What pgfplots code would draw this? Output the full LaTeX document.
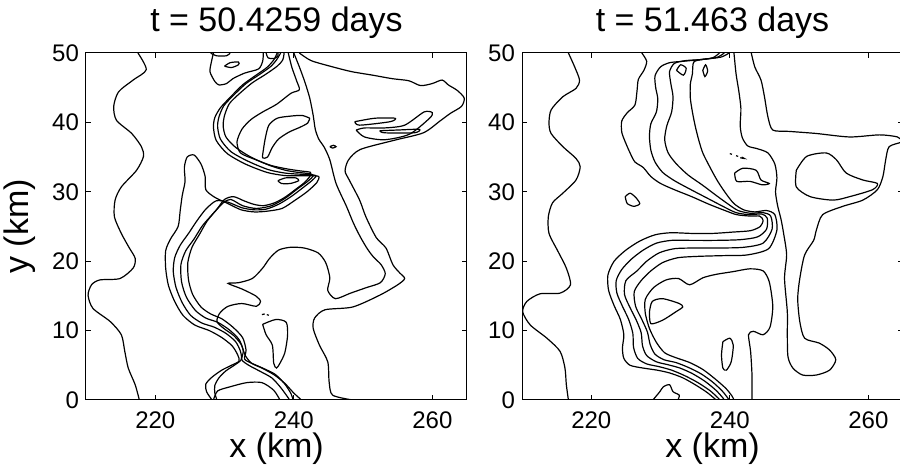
\documentclass[border=0pt]{standalone}
\usepackage{fontspec}
\setmainfont{Liberation Sans}
\usepackage{pgfplots}
\pgfplotsset{compat=1.18}
\begin{document}
\begin{tikzpicture}
\useasboundingbox (0pt,0pt) rectangle (450pt,237.5pt);
\pgfplotsset{
  panel/.style={
    scale only axis, width=190.5pt, height=173.5pt,
    xmin=210, xmax=265, ymin=0, ymax=50,
    xtick={220,240,260}, ytick={0,10,20,30,40,50},
    tick align=inside, major tick length=2.5pt,
    /pgf/number format/assume math mode=true,
    ticklabel style={font=\fontsize{12}{13}\selectfont},
    xticklabel style={anchor=base, yshift=-14.5pt},
    title style={at={(axis description cs:0.5,1.0605)}, anchor=base, yshift=-6pt, font=\fontsize{17}{19}\selectfont},
    xlabel style={at={(axis description cs:0.5,-0.1671)}, anchor=base, font=\fontsize{17}{19}\selectfont},
    ylabel style={at={(axis description cs:-0.1522,0.5)}, anchor=base, font=\fontsize{17}{19}\selectfont},
    axis line style={line width=0.5pt},
    every tick/.style={black, line width=0.5pt},
  },
  c/.style={black, line width=0.6pt, smooth, tension=0.45, mark=none},
}
% ---------------- left panel ----------------
\begin{axis}[panel, at={(43pt,37.5pt)}, anchor=south west,
  title={t = 50.4259 days}, xlabel={x (km)}, ylabel={y (km)}]
\addplot[c] coordinates {(217.5,50) (218.7,47.6) (216.8,46.1) (214.7,44.4) (214.0,42.3) (214.4,40.3) (216.6,38.4) (218.0,36.5) (218.3,35.1) (217.3,33.1) (215.1,30.7) (214.2,28.8) (214.1,26.4) (215.1,24.0) (216.2,22.0) (217.1,20.4) (216.8,19.0) (214.9,17.5) (212.0,17.3) (210.8,16.6) (210.3,15.1) (211.0,13.2) (213.5,11.3) (215.1,9.4) (215.6,7.0) (216.1,4.6) (217.1,2.2) (217.7,0)};
% outer right contour
\addplot[c] coordinates {(240.8,50) (242.5,48.9) (245.6,48.0) (248.4,47.3) (251.4,46.8) (254.2,46.3) (256.6,46.0) (258.3,45.3) (260.0,45.6) (261.4,46.1) (262.3,45.4) (263.6,44.6) (264.6,43.5) (264.2,42.3) (262.6,41.3) (261.1,40.2) (258.7,38.5) (254.4,37.4) (249.6,36.1) (247.9,34.6) (247.4,33.0) (248.0,31.7) (249.5,28.8) (250.4,26.4) (251.9,23.4) (253.3,21.9) (254.3,19.5) (255.3,18.3) (256.0,17.5) (255.0,16.6) (252.4,15.1) (248.5,13.4) (244.5,13.0) (243.0,11.8) (242.8,10.3) (243.7,7.9) (244.9,5.5) (245.1,2.6) (245.6,0.7) (248.5,0)};
% second right contour
\addplot[c] coordinates {(240.0,50) (240.8,48) (241.6,45.8) (242.3,43.5) (242.8,41) (243.1,39) (243.6,37.6) (244.4,36.4) (245.2,34.6) (246.1,31.2) (247.6,27.9) (248.6,25.5) (249.6,23.5) (250.6,21.8) (251.5,20.6) (252.6,19.5) (253.2,18.2) (252.5,16.9) (250.5,16.2) (248.2,15.4) (246.0,14.6) (244.9,15.8) (245.2,17.6) (244.6,19.8) (243.5,21.2) (241.5,21.9) (239.5,22.0) (237.8,21.6) (236.5,20.4) (235.5,19.0) (234.0,17.5) (232.0,16.9) (230.5,16.8) (232.5,16.0) (234.5,15.0) (235.2,14.2) (234.6,13.5) (232.5,13.9) (230.5,13.5) (229.3,12.5) (228.9,11.3) (229.9,10.3) (231.3,9.3) (232.4,8.0) (233.0,6.4) (233.9,5.3) (235.4,4.6) (237.2,3.6) (238.7,2.4) (240.0,1.0) (241.1,0)};
% tongue loops
\addplot[c] coordinates {(248.8,40.1) (251.7,40.6) (254.6,40.6) (253.9,40.1) (249.5,39.6) (248.8,40.1)};
\addplot[c] coordinates {(249.0,38.9) (250.2,37.9) (253.1,37.5) (256.7,38.3) (259.6,40.6) (260.0,41.4) (258.8,41.5) (256.0,39.6) (253.1,39.2) (250.2,39.2) (249.0,38.9)};
\addplot[c] coordinates {(252.4,38.8) (255.0,38.9) (258.1,39.0) (257.4,38.5) (253.1,38.5) (252.4,38.8)};
\addplot[c] coordinates {(245.2,36.5) (245.7,36.7) (246.1,36.5) (245.6,36.3) (245.2,36.5)};
% top features
\addplot[c] coordinates {(228.4,50) (228.1,48.7) (227.9,47.3) (228.6,45.9) (229.2,45.4) (230.3,45.6) (231.2,46.3) (232.9,47.1) (234.9,47.7) (235.5,48.8) (235.6,50)};
\addplot[c] coordinates {(230.0,48.1) (230.8,48.6) (232.0,48.7) (232.0,48.3) (231.0,47.9) (230.0,48.1)};
\addplot[c] coordinates {(228.0,50) (228.8,49.6) (230.3,49.6) (230.8,50)};
\addplot[c] coordinates {(236.0,50) (236.3,49.3) (237.2,49.2) (237.7,49.6) (237.7,50)};
% band line A
\addplot[c] coordinates {(237.6,50) (237.1,49) (236.1,47.9) (234.4,46.7) (232.6,45.4) (230.8,43.6) (229.4,42.1) (228.6,40.7) (228.4,39.3) (228.8,37.4) (230.4,35.5) (233.0,34.0) (236.1,32.8) (238.6,32.35) (240.6,32.3) (242.3,32.3) (243.6,32.2) (243.3,31.3) (241.9,30.0) (240.2,28.8) (238.3,27.6) (236.1,27.2) (234.3,27.1) (232.4,27.4) (230.5,28.3) (228.6,29.2) (227.3,30.3) (227.2,32.2) (226.6,34.0) (225.6,35.3) (224.6,35.0) (224.2,33.5) (224.3,31.5) (223.9,29.5) (223.6,27.3) (223.3,25.0) (222.2,23.2) (221.5,21.5) (221.5,19.0) (221.9,16.5) (222.8,14.2) (224.0,12.2) (225.7,10.8) (227.8,10.0) (229.6,9.0) (231.1,7.8) (231.9,6.5) (232.1,5.6) (231.0,5.0) (229.6,4.3) (228.2,3.3) (227.3,2.3) (227.4,1.2) (228.2,0)};
% band line B
\addplot[c] coordinates {(238.1,50) (237.5,49) (236.6,48) (234.9,46.8) (233.1,45.6) (231.3,43.9) (229.9,42.4) (229.2,40.8) (229.0,39.4) (229.4,37.6) (230.9,35.8) (233.4,34.4) (236.3,33.2) (238.7,32.7) (240.6,32.55) (242.2,32.5) (243.2,32.3) (242.6,31.6) (241.2,30.5) (239.6,29.3) (237.8,28.2) (236.0,27.5) (234.3,27.4) (232.5,27.7) (230.5,28.5) (228.8,28.7) (227.3,27.5) (226.0,25.8) (224.8,24.0) (223.6,22.3) (222.8,20.5) (222.6,18.5) (223.0,16.2) (223.9,14.0) (225.1,12.2) (226.7,11.1) (228.5,10.5) (230.2,9.6) (231.6,8.4) (232.3,7.0) (232.4,5.8) (231.4,5.0) (230.2,4.2) (229.2,3.2) (228.6,2.1) (228.6,1.0) (228.9,0)};
% band line C
\addplot[c] coordinates {(238.6,50) (238.4,49) (237.6,48.1) (235.9,46.9) (234.0,45.7) (232.1,44.1) (230.7,42.7) (230.0,41) (229.8,39.5) (230.2,37.9) (231.6,36.4) (233.8,35.0) (236.5,33.8) (238.8,33.1) (240.6,32.8) (242.3,32.6) (242.8,32.3) (242.0,31.5) (240.5,30.4) (238.8,29.1) (236.8,28.0) (234.6,27.6) (232.6,28.0) (230.9,28.9) (229.8,28.4) (228.3,26.8) (226.8,25.1) (225.6,23.2) (224.4,21.5) (223.7,19.5) (223.8,17.0) (224.5,14.8) (225.8,12.9) (227.3,11.8) (229.0,11.2) (230.7,10.1) (232.1,8.7) (232.7,7.1) (232.5,5.8) (233.5,5.0) (235.0,4.2) (236.8,3.2) (238.1,1.8) (239.2,0.3) (239.4,0)};
% band line D
\addplot[c] coordinates {(239.2,50) (239.7,48) (240.4,46) (240.8,44.7) (239.6,44.2) (237.5,42.6) (235.5,41.5) (233.8,40.4) (232.5,39.0) (231.8,37.2) (232.3,35.6) (234.3,34.7) (236.7,33.8) (239.0,33.3) (241.0,33.0) (242.4,32.8) (242.3,32.2) (241.5,31.3) (240.2,30.3) (238.7,29.2) (237.2,28.4) (235.6,28.0) (234.2,28.2) (232.8,28.7) (231.3,29.3) (230.0,28.9) (228.9,27.5) (227.5,25.8) (226.4,23.9) (225.3,22.0) (224.7,19.8) (224.8,17.3) (225.4,15.2) (226.6,13.4) (228.0,12.4) (229.6,11.7) (231.2,10.5) (232.6,9.0) (233.1,7.2) (232.9,5.9) (233.9,5.3) (235.5,4.6) (237.3,3.7) (238.7,2.3) (239.6,0.9) (239.9,0)};
% inner finger between strands
\addplot[c] coordinates {(242.3,40.6) (241.2,41.0) (239.5,40.9) (237.6,40.6) (236.4,39.6) (235.9,37.8) (235.6,36.0) (235.5,34.9) (236.2,35.0) (236.9,36.4) (237.8,37.6) (239.3,38.6) (240.9,39.3) (242.0,39.9) (242.3,40.6)};
\addplot[c] coordinates {(237.7,31.6) (238.8,32.0) (240.3,32.0) (240.7,31.6) (239.5,31.2) (238.2,31.2) (237.7,31.6)};
% bottom features
\addplot[c] coordinates {(228.4,0) (229.0,1.3) (230.8,1.9) (233.2,2.5) (235.4,2.5) (237.1,1.4) (238.0,0)};
\addplot[c] coordinates {(235.5,10.9) (237.4,11.6) (238.9,11.2) (239.1,9.3) (238.7,6.8) (238.0,5.3) (237.5,4.6) (237.1,5.3) (236.9,7.9) (236.0,9.4) (235.5,10.9)};
\addplot[c] coordinates {(235.4,12.3) (235.8,12.4)};
\addplot[c] coordinates {(236.1,12.3) (236.4,12.2)};
\end{axis}
% ---------------- right panel ----------------
\begin{axis}[panel, at={(261pt,37.5pt)}, anchor=south west,
  title={t = 51.463 days}, xlabel={x (km)}]
\addplot[c] coordinates {(216.7,50) (217.6,48) (218.3,46.1) (217.8,44.9) (215.9,43.7) (214.2,41.8) (213.9,39.9) (214.2,38.4) (215.9,36.5) (217.8,34.8) (218.4,33.6) (217.8,31.7) (215.9,29.8) (214.4,28.4) (213.8,26.4) (213.9,24.0) (215.2,21.4) (216.4,19.0) (217.0,16.6) (215.5,15.4) (212.6,15.3) (210.7,14.2) (210.1,12.7) (211.2,10.8) (213.6,8.9) (215.5,7.0) (216.2,4.6) (216.4,2.2) (216.7,0)};
% outer contour
\addplot[c] coordinates {(243.1,50) (243.6,48) (244.5,46.1) (245.0,43.7) (245.5,40.8) (246.2,38.9) (248.6,38.7) (252.5,38.4) (257.3,37.9) (261.6,38.2) (264.2,37.9) (264.8,37.2) (263.0,36.5) (262.5,34.6) (262.1,32.2) (261.3,30.3) (259.2,28.8) (256.3,27.9) (253.4,26.7) (252.5,24.5) (252.1,23.0) (250.8,20.9) (250.1,17.5) (249.8,14.6) (250.1,11.3) (250.8,8.9) (252.9,8.2) (254.4,7.2) (255.3,5.8) (254.4,4.3) (252.5,3.6) (250.5,3.6) (249.1,4.6) (248.4,6.2) (248.3,9.4) (248.3,12.7) (247.9,17.5) (248.2,20.9) (247.8,23.8) (247.4,26.0) (246.9,28.0) (246.6,30) (246.8,32) (246.5,34) (245.5,35.6) (244.0,36.2) (242.6,36.6) (241.8,37.8) (241.5,39.5) (241.6,42) (241.3,44.5) (240.9,47) (240.6,50)};
% tongue loop
\addplot[c] coordinates {(249.6,33.1) (251.1,35.1) (253.9,35.6) (255.4,34.6) (256.8,32.7) (259.2,31.7) (261.3,31.2) (260.6,30.3) (257.3,29.3) (254.9,28.8) (251.6,29.3) (249.6,30.7) (249.6,33.1)};
\addplot[c] coordinates {(240.7,32.7) (241.9,33.4) (243.8,33.1) (244.5,31.7) (245.7,31.2) (244.7,31.0) (242.9,31.5) (241.0,31.5) (240.7,32.7)};
% band lines
\addplot[c] coordinates {(227.3,50) (228.0,48.8) (227.6,47.5) (226.8,46.2) (226.6,44.5) (226.3,42.5) (225.2,41.4) (224.4,40.2) (224.4,38.6) (224.9,37.2) (225.6,35.6) (226.3,34.3) (227.5,33.5) (228.6,32.2) (230.0,31.2) (232.0,30.3) (234.5,29.3) (237.0,28.2) (239.3,27.3) (241.0,26.7) (243.0,26.5) (244.3,26.5) (244.8,25.9) (244.4,25.0) (243.0,24.4) (240.5,24.2) (237.5,24.0) (234.5,24.0) (231.5,24.1) (229.2,23.8) (227.0,22.9) (225.0,21.6) (223.3,20.0) (222.4,18.0) (222.5,15.8) (223.3,13.6) (224.2,11.6) (224.7,9.4) (224.5,7.5) (224.7,6.0) (225.6,5.0) (227.5,4.6) (229.5,4.3) (231.3,3.9) (233.2,3.2) (235.0,2.2) (236.7,1.1) (237.8,0.2) (238.0,0)};
\addplot[c] coordinates {(238.5,50) (237.5,49.3) (235.3,49.0) (233.2,48.8) (231.3,48.6) (230.0,48.0) (229.2,46.7) (229.3,45.0) (229.6,43.4) (229.4,41.5) (228.6,39.8) (228.4,38.0) (228.6,36.0) (229.2,34.3) (230.3,32.8) (232.0,31.6) (234.4,30.3) (236.9,29.0) (239.2,27.8) (240.9,27.0) (242.8,26.7) (244.6,26.8) (245.4,26.2) (245.3,24.6) (244.0,23.5) (241.5,23.1) (238.0,23.0) (234.5,23.0) (231.6,23.0) (229.4,22.6) (227.5,21.6) (225.8,20.3) (224.4,18.8) (223.6,17.2) (223.7,15.4) (224.5,13.5) (225.4,11.6) (226.0,9.6) (226.1,7.6) (226.7,6.0) (228.0,5.2) (229.8,4.8) (231.6,4.3) (233.5,3.5) (235.4,2.5) (237.2,1.3) (238.4,0.2) (238.6,0)};
\addplot[c] coordinates {(239.2,50) (238.1,49.35) (235.8,49.05) (233.6,48.9) (232.0,48.5) (231.3,47.3) (231.5,45.5) (231.8,43.7) (231.6,41.5) (230.9,39.5) (230.6,37.5) (231.1,35.6) (232.3,34.0) (234.0,32.4) (236.0,31.0) (238.0,29.5) (239.8,28.2) (241.2,27.3) (243.0,26.9) (244.8,27.0) (245.9,26.5) (246.1,24.6) (244.8,22.6) (242.0,22.0) (238.5,21.9) (235.0,21.9) (232.0,21.8) (229.8,21.2) (228.0,20.0) (226.6,18.6) (225.0,17.2) (224.8,15.2) (225.6,13.3) (226.5,11.5) (227.2,9.7) (227.4,7.8) (228.0,6.4) (229.4,5.5) (231.0,5.1) (232.8,4.6) (234.6,3.8) (236.4,2.7) (238.0,1.4) (239.0,0.3) (239.2,0)};
\addplot[c] coordinates {(239.9,50) (238.7,49.4) (236.3,49.1) (234.8,48.7) (234.6,47.0) (234.3,45.5) (234.3,43.5) (234.6,41.5) (235.0,39.5) (235.5,37.5) (236.1,35.6) (237.1,33.6) (238.2,31.6) (239.4,29.8) (240.6,28.3) (242.0,27.4) (243.6,27.1) (245.3,27.3) (246.5,26.7) (246.8,24.5) (245.6,21.8) (242.5,20.9) (239.0,20.8) (235.5,20.7) (232.5,20.5) (230.3,19.8) (228.6,18.6) (227.2,17.2) (226.2,15.6) (226.4,13.5) (227.3,11.6) (228.1,9.8) (228.5,8.0) (229.2,6.6) (230.5,5.8) (232.2,5.4) (234.0,4.7) (235.8,3.8) (237.5,2.6) (238.9,1.3) (239.7,0.3) (239.9,0)};
\addplot[c] coordinates {(243.2,0) (243.2,3.6) (243.0,7.0) (242.7,9.4) (243.4,9.9) (244.8,9.4) (245.8,10.5) (246.2,13.5) (245.7,17.0) (244.8,18.6) (242.9,18.9) (240.5,18.5) (238.0,18.1) (236.1,17.6) (234.2,16.6) (232.6,17.5) (230.8,17.3) (229.0,16.2) (227.8,14.5) (227.8,12.5) (228.4,10.3) (229.4,8.3) (230.6,6.8) (232.2,6.1) (234.2,5.4) (236.1,4.4) (237.8,3.1) (239.4,1.7) (240.3,0.6) (240.6,0)};
% small loops
\addplot[c] coordinates {(228.4,12.7) (228.8,14.2) (230.3,14.6) (232.7,13.9) (233.2,13.4) (232.2,12.7) (230.3,11.5) (228.6,11.0) (228.4,12.7)};
\addplot[c] coordinates {(239.0,8.4) (240.0,8.9) (240.5,7.9) (240.2,5.5) (239.5,4.3) (239.0,4.6) (238.8,6.5) (239.0,8.4)};
\addplot[c] coordinates {(228.9,0) (229.9,1.2) (230.4,1.9) (231.3,2.2) (231.8,1.2) (232.7,0.7) (232.5,0)};
\addplot[c] coordinates {(232.3,47.5) (232.9,48.3) (233.7,47.8) (233.3,46.8) (232.3,47.5)};
\addplot[c] coordinates {(236.1,47.5) (236.5,48.3) (236.8,47.4) (236.4,46.6) (236.1,47.5)};
\addplot[c] coordinates {(224.9,29.3) (225.6,29.8) (226.4,29.2) (227.0,28.3) (226.2,27.9) (225.2,28.3) (224.9,29.3)};
\addplot[c] coordinates {(240.0,35.5) (240.3,35.4)};
\addplot[c] coordinates {(240.9,35.2) (241.2,35.1)};
\addplot[c] coordinates {(241.5,34.9) (242.1,34.8) (241.7,35.0)};
\end{axis}
\end{tikzpicture}
\end{document}
